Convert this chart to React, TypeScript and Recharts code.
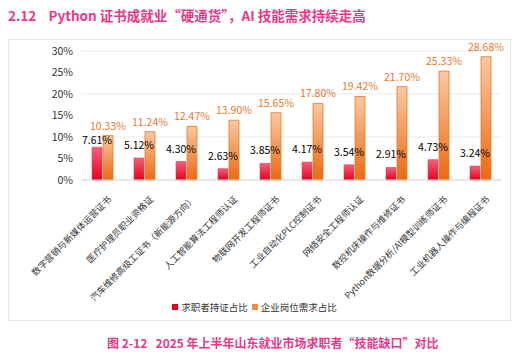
import React from 'react';
import { BarChart, Bar, XAxis, YAxis, CartesianGrid, Legend, LabelList } from 'recharts';

// 证书类别
const categories = [
  '数字营销与新媒体运营证书',
  '医疗护理员职业资格证',
  '汽车维修高级工证书（新能源方向）',
  '人工智能算法工程师认证',
  '物联网开发工程师证书',
  '工业自动化PLC控制证书',
  '网络安全工程师认证',
  '数控机床操作与维修证书',
  'Python数据分析/AI模型训练师证书',
  '工业机器人操作与编程证书',
];
// 求职者持证占比 (%)
const holders = [7.61, 5.12, 4.3, 2.63, 3.85, 4.17, 3.54, 2.91, 4.73, 3.24];
// 企业岗位需求占比 (%)
const demand = [10.33, 11.24, 12.47, 13.9, 15.65, 17.8, 19.42, 21.7, 25.33, 28.68];
const yTicks = [0, 5, 10, 15, 20, 25, 30];

const data = categories.map((name, i) => ({ name, holders: holders[i], demand: demand[i] }));

const FONT = '"Noto Sans CJK SC", "Noto Sans", sans-serif';
const PINK = '#e8388a';

const CategoryTick = (props: any) => {
  const { x, y, payload } = props;
  return (
    <g transform={`translate(${x + 10},${y + 12})`}>
      <text textAnchor="end" transform="rotate(-45)" fontSize={9} fill="#333" fontFamily={FONT}>
        {payload.value}
      </text>
    </g>
  );
};

// 红色标签：与橙色标签太近时贴近柱顶
const HolderLabel = (props: any) => {
  const { x, y, width, index, value } = props;
  const close = demand[index] - holders[index] < 4;
  return (
    <text
      x={x + width / 2}
      y={y - (close ? 3 : 9)}
      textAnchor="middle"
      fontSize={10.5}
      fill="#000"
      fontFamily={FONT}
    >
      {`${Number(value).toFixed(2)}%`}
    </text>
  );
};

const LegendContent = () => (
  <div style={{ display: 'flex', justifyContent: 'center', fontSize: 9.5, color: '#333', fontFamily: FONT }}>
    <span style={{ display: 'flex', alignItems: 'center', marginRight: 4 }}>
      <span style={{ width: 6, height: 6, background: '#e8001e', marginRight: 3 }} />
      求职者持证占比
    </span>
    <span style={{ display: 'flex', alignItems: 'center' }}>
      <span style={{ width: 6, height: 6, background: '#f08a3c', marginRight: 3 }} />
      企业岗位需求占比
    </span>
  </div>
);

const App = () => {
  return (
    <div style={{ position: 'absolute', left: 0, top: 0, width: 530, height: 358, background: '#fff', fontFamily: FONT }}>
      <div style={{ position: 'absolute', left: 8, top: 5, fontSize: 13.5, fontWeight: 700, color: PINK, whiteSpace: 'pre' }}>
        {'2.12    Python 证书成就业“硬通货”，AI 技能需求持续走高'}
      </div>
      <div style={{ position: 'absolute', left: 8, top: 39, width: 503, height: 282, border: '1px solid #e3e8eb', boxSizing: 'border-box' }} />
      <div style={{ position: 'absolute', left: 8, top: 34 }}>
        <BarChart
          width={504}
          height={288}
          data={data}
          margin={{ top: 17, right: 11, left: 0, bottom: 8 }}
          barSize={10}
          barGap={1}
        >
          <defs>
            <linearGradient id="gRed" x1="0" y1="0" x2="0" y2="1">
              <stop offset="0%" stopColor="#f4607c" />
              <stop offset="100%" stopColor="#e6001a" />
            </linearGradient>
            <linearGradient id="gOrange" x1="0" y1="0" x2="0" y2="1">
              <stop offset="0%" stopColor="#f9c9a2" />
              <stop offset="100%" stopColor="#ea6a12" />
            </linearGradient>
          </defs>
          <CartesianGrid vertical={false} stroke="#e6e9ec" />
          <XAxis
            dataKey="name"
            interval={0}
            height={120}
            tick={<CategoryTick />}
            tickLine={false}
            axisLine={{ stroke: '#d9d9d9' }}
          />
          <YAxis
            width={73}
            domain={[0, 30]}
            ticks={yTicks}
            tickFormatter={(v: number) => `${v}%`}
            tick={{ fontSize: 10.5, fill: '#333', fontFamily: FONT }}
            tickLine={false}
            axisLine={false}
          />
          <Legend verticalAlign="bottom" content={<LegendContent />} />
          <Bar dataKey="holders" name="求职者持证占比" fill="url(#gRed)" stroke="#e3405a" strokeWidth={0.6} isAnimationActive={false}>
            <LabelList dataKey="holders" content={<HolderLabel />} />
          </Bar>
          <Bar dataKey="demand" name="企业岗位需求占比" fill="url(#gOrange)" stroke="#e8782a" strokeWidth={0.8} isAnimationActive={false}>
            <LabelList
              dataKey="demand"
              position="top"
              offset={6}
              formatter={(v: number) => `${v.toFixed(2)}%`}
              style={{ fontSize: 10.5, fill: '#e8772e', fontFamily: FONT }}
            />
          </Bar>
        </BarChart>
      </div>
      <div style={{ position: 'absolute', left: 107, top: 334, fontSize: 12, fontWeight: 700, color: PINK, whiteSpace: 'pre' }}>
        {'图 2-12   2025 年上半年山东就业市场求职者“技能缺口”对比'}
      </div>
    </div>
  );
};

export default App;
